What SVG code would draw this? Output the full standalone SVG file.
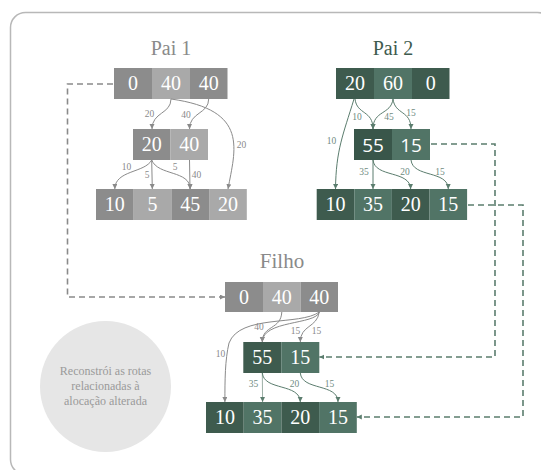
<svg xmlns="http://www.w3.org/2000/svg" width="541" height="470" viewBox="0 0 541 470">
  <defs>
    <marker id="arrG" markerUnits="userSpaceOnUse" markerWidth="6" markerHeight="6" refX="5" refY="2.5" orient="auto">
      <path d="M0,0 L5,2.5 L0,5 z" fill="#8a8a8a"/>
    </marker>
    <marker id="arrV" markerUnits="userSpaceOnUse" markerWidth="6" markerHeight="6" refX="5" refY="2.5" orient="auto">
      <path d="M0,0 L5,2.5 L0,5 z" fill="#5b7d6e"/>
    </marker>
    <style>
      text { font-family: 'Liberation Serif', 'Tinos', 'Noto Serif', 'DejaVu Serif', 'FreeSerif', 'Nimbus Roman', 'Times New Roman', Times, serif; }
      .title { font-size: 20px; text-anchor: middle; }
      .num { font-size: 20px; fill: #ffffff; text-anchor: middle; }
      .numS { font-family: 'Open Sans', 'DejaVu Sans', sans-serif; font-size: 19px; fill: #ffffff; text-anchor: middle; }
      .lbl { font-size: 9.5px; text-anchor: middle; }
      .note { font-size: 12px; fill: #9a9a9a; text-anchor: middle; }
      .lg { fill: #8a8a8a; }
      .lv { fill: #6f8c7f; }
      .g1 { fill: #8c8c8c; }
      .g2 { fill: #a9a9a9; }
      .v1 { fill: #3e5b4e; }
      .v2 { fill: #517466; }
      .v0 { fill: #39564a; }
      .cg { fill: none; stroke: #8a8a8a; stroke-width: 1; marker-end: url(#arrG); }
      .cv { fill: none; stroke: #5b7d6e; stroke-width: 1; marker-end: url(#arrV); }
      .cvl { fill: none; stroke: #9db0a7; stroke-width: 1; marker-end: url(#arrV); }
      .dg { fill: none; stroke: #8a8a8a; stroke-width: 1.6; stroke-dasharray: 6 4; marker-end: url(#arrG); }
      .dv { fill: none; stroke: #5b7d6e; stroke-width: 1.6; stroke-dasharray: 6 4; marker-end: url(#arrV); }
    </style>
  </defs>

  <rect width="541" height="470" fill="#ffffff"/>
  <!-- outer frame -->
  <rect x="10.5" y="12.5" width="542" height="462" rx="15" fill="none" stroke="#b8b8b8" stroke-width="1.5"/>

  <!-- Pai 1 -->
  <g id="pai1">
    <text class="title" x="171" y="55" fill="#8a8a8a">Pai 1</text>
    <g id="pai1-r1">
      <rect class="g1" x="114" y="68" width="38" height="31"/>
      <rect class="g2" x="152" y="68" width="38" height="31"/>
      <rect class="g1" x="190" y="68" width="37.5" height="31"/>
      <text class="num" x="133" y="90">0</text>
      <text class="num" x="171" y="90">40</text>
      <text class="num" x="208.7" y="90">40</text>
    </g>
    <g id="pai1-r2">
      <rect class="g1" x="133" y="129" width="37.5" height="31"/>
      <rect class="g2" x="170.5" y="129" width="37.5" height="31"/>
      <text class="num" x="151.7" y="151">20</text>
      <text class="num" x="189.2" y="151">40</text>
    </g>
    <g id="pai1-r3">
      <rect class="g1" x="96" y="189" width="37.7" height="31"/>
      <rect class="g2" x="133.7" y="189" width="37.7" height="31"/>
      <rect class="g1" x="171.4" y="189" width="37.7" height="31"/>
      <rect class="g2" x="209.1" y="189" width="37.7" height="31"/>
      <text class="num" x="114.8" y="211">10</text>
      <text class="num" x="152.5" y="211">5</text>
      <text class="num" x="190.2" y="211">45</text>
      <text class="num" x="227.9" y="211">20</text>
    </g>
  </g>

  <!-- Pai 2 -->
  <g id="pai2">
    <text class="title" x="393" y="55" fill="#3e5b4e">Pai 2</text>
    <g id="pai2-r1">
      <rect class="v1" x="336" y="68" width="38" height="31"/>
      <rect class="v2" x="374" y="68" width="38" height="31"/>
      <rect class="v1" x="412" y="68" width="37.5" height="31"/>
      <text class="num" x="355" y="90">20</text>
      <text class="num" x="393" y="90">60</text>
      <text class="num" x="430.7" y="90">0</text>
    </g>
    <g id="pai2-r2">
      <rect class="v0" x="354" y="129" width="38" height="31"/>
      <rect class="v2" x="392" y="129" width="38" height="31"/>
      <text class="numS" x="373" y="151.5">55</text>
      <text class="numS" x="411" y="151.5">15</text>
    </g>
    <g id="pai2-r3">
      <rect class="v1" x="316.7" y="189" width="37.6" height="31"/>
      <rect class="v2" x="354.3" y="189" width="37.6" height="31"/>
      <rect class="v1" x="391.9" y="189" width="37.6" height="31"/>
      <rect class="v2" x="429.5" y="189" width="37.6" height="31"/>
      <text class="num" x="335.5" y="211">10</text>
      <text class="num" x="373.1" y="211">35</text>
      <text class="num" x="410.7" y="211">20</text>
      <text class="num" x="448.3" y="211">15</text>
    </g>
  </g>

  <!-- Filho -->
  <g id="filho">
    <text class="title" x="282" y="268" fill="#8a8a8a" style="font-size:21px">Filho</text>
    <g id="filho-r1">
      <rect class="g1" x="225" y="282" width="38" height="30"/>
      <rect class="g2" x="263" y="282" width="37.5" height="30"/>
      <rect class="g1" x="300.5" y="282" width="37.5" height="30"/>
      <text class="num" x="244" y="304">0</text>
      <text class="num" x="281.8" y="304">40</text>
      <text class="num" x="319.3" y="304">40</text>
    </g>
    <g id="filho-r2">
      <rect class="v1" x="243.3" y="342" width="38" height="31"/>
      <rect class="v2" x="281.3" y="342" width="38" height="31"/>
      <text class="num" x="262.3" y="364">55</text>
      <text class="num" x="300.3" y="364">15</text>
    </g>
    <g id="filho-r3">
      <rect class="v1" x="206" y="402" width="37.7" height="31"/>
      <rect class="v2" x="243.7" y="402" width="37.7" height="31"/>
      <rect class="v1" x="281.4" y="402" width="37.7" height="31"/>
      <rect class="v2" x="319.1" y="402" width="37.7" height="31"/>
      <text class="num" x="224.9" y="424">10</text>
      <text class="num" x="262.6" y="424">35</text>
      <text class="num" x="300.3" y="424">20</text>
      <text class="num" x="338" y="424">15</text>
    </g>
  </g>

  <!-- note bubble -->
  <g id="nota">
    <circle cx="105.5" cy="386.5" r="65.5" fill="#e6e6e6"/>
    <text class="note" x="105.5" y="375">Reconstrói as rotas</text>
    <text class="note" x="105.5" y="390">relacionadas à</text>
    <text class="note" x="105.5" y="405">alocação alterada</text>
  </g>

  <!-- connectors -->
  <g id="connectors">
    <!-- Pai 1 -->
    <path class="cg" d="M171,99 C171,114 152,112 152,129"/>
    <path class="cg" d="M208.7,99 C208.7,114 189.5,112 189.5,129"/>
    <path class="cg" d="M171,99 C250,110 235,150 228,189"/>
    <path class="cg" d="M151.7,160 C145,173 115,170 114.8,189"/>
    <path class="cg" d="M151.7,160 L152.3,189"/>
    <path class="cg" d="M151.7,160 C158,176 190,170 190.2,189"/>
    <path class="cg" d="M189.5,160 L190,189"/>
    <text class="lbl lg" x="149.5" y="117">20</text>
    <text class="lbl lg" x="186" y="118">40</text>
    <text class="lbl lg" x="241.5" y="148">20</text>
    <text class="lbl lg" x="126.5" y="170">10</text>
    <text class="lbl lg" x="147" y="178">5</text>
    <text class="lbl lg" x="175" y="170">5</text>
    <text class="lbl lg" x="196.5" y="178">40</text>

    <!-- Pai 2 -->
    <path class="cv" d="M355,99 C357,115 373,110 373,129"/>
    <path class="cv" d="M393,99 C391,115 373,110 373,129"/>
    <path class="cv" d="M393,99 C395,115 411,110 411,129"/>
    <path class="cv" d="M354,99 C343,135 336,150 335.5,189"/>
    <path class="cv" d="M373,160 L373,189"/>
    <path class="cv" d="M373,160 C375,178 410,170 410.7,189"/>
    <path class="cv" d="M411,160 C413,178 448,170 448.3,189"/>
    <text class="lbl lv" x="357" y="120">10</text>
    <text class="lbl lv" x="389" y="120">45</text>
    <text class="lbl lv" x="411" y="116">15</text>
    <text class="lbl lv" x="331.5" y="144">10</text>
    <text class="lbl lv" x="364" y="175">35</text>
    <text class="lbl lv" x="405" y="175">20</text>
    <text class="lbl lv" x="440" y="175">15</text>

    <!-- Filho -->
    <path class="cg" d="M281.8,312 C281,330 262.3,325 262.3,342"/>
    <path class="cg" d="M319.3,312 C316,325 262.3,320 262.3,342"/>
    <path class="cg" d="M319.3,312 C317,328 300.3,325 300.3,342"/>
    <path class="cg" d="M319.3,312 C300,326 240,314 229,343 C225,360 224.9,380 224.9,402"/>
    <path class="cvl" d="M262.3,373 L262.6,402"/>
    <path class="cv" d="M262.3,373 C264,391 300,383 300.3,402"/>
    <path class="cv" d="M300.3,373 C302,391 338,383 338,402"/>
    <text class="lbl lg" x="259" y="330">40</text>
    <text class="lbl lg" x="295.5" y="334">15</text>
    <text class="lbl lg" x="316.5" y="334">15</text>
    <text class="lbl lg" x="220.5" y="357">10</text>
    <text class="lbl lv" x="253.5" y="387">35</text>
    <text class="lbl lv" x="294.5" y="387">20</text>
    <text class="lbl lv" x="329.5" y="387">15</text>

    <!-- crossover links -->
    <path class="dg" d="M113,84 H67.5 V297 H225"/>
    <path class="dv" d="M431,144 H495 V357 H319.3"/>
    <path class="dv" d="M468,205 H523 V417 H356.8"/>
  </g>
</svg>
